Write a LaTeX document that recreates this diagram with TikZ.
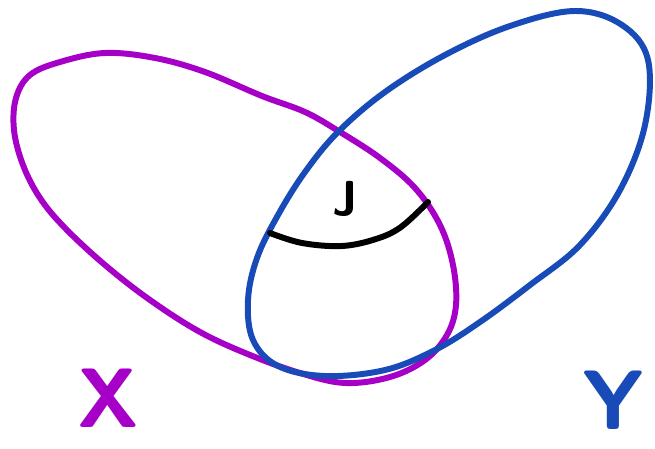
\documentclass[tikz,border=0pt]{standalone}
\usepackage{tikz}
\usetikzlibrary{positioning}

\definecolor{xpurple}{RGB}{166,0,200}
\definecolor{yblue}{RGB}{24,74,184}

\begin{document}
\begin{tikzpicture}[x=0.02cm,y=-0.02cm,line cap=round,line join=round,
  pen/.style={line width=3.4pt},
  letter/.style={font=\sffamily\bfseries\fontsize{48}{48}\selectfont,inner sep=0pt}]

%grid help
% \draw[gray, very thin] (0,0) grid[step=50] (655,449);

\useasboundingbox (0,0) rectangle (655,449);

%Set X
\draw[pen,xpurple] plot[smooth cycle,tension=0.6] coordinates {
  (60,62) (105,53) (155,58) (205,72) (262,96) (305,112) (340,132)
  (380,158) (415,188) (440,225) (453,265) (456,305) (447,335)
  (425,360) (390,377) (345,383) (300,373) (250,355) (200,332)
  (150,300) (105,265) (65,228) (40,198) (23,165) (14,130) (16,98) (30,75)};

%Set Y
\draw[pen,yblue] plot[smooth cycle,tension=0.6] coordinates {
  (575,11) (622,25) (648,60) (645,125) (620,190) (580,245) (530,285)
  (480,322) (435,350) (385,370) (325,376) (278,366) (253,340)
  (248,300) (257,258) (278,215) (305,172) (338,132) (385,92)
  (445,55) (510,26)};

%Cut inside the overlap
\draw[pen] plot[smooth,tension=0.6] coordinates {
  (270,233) (302,243) (342,246) (376,239) (401,227) (428,202)};

%Labels
\node[letter,xpurple] (X) at (108,398) {X};
\node[letter,yblue] (Y) at (613,400) {Y};
\node[letter,font=\sffamily\bfseries\fontsize{28}{28}\selectfont] (J) at (345,199) {J};

\end{tikzpicture}
\end{document}
